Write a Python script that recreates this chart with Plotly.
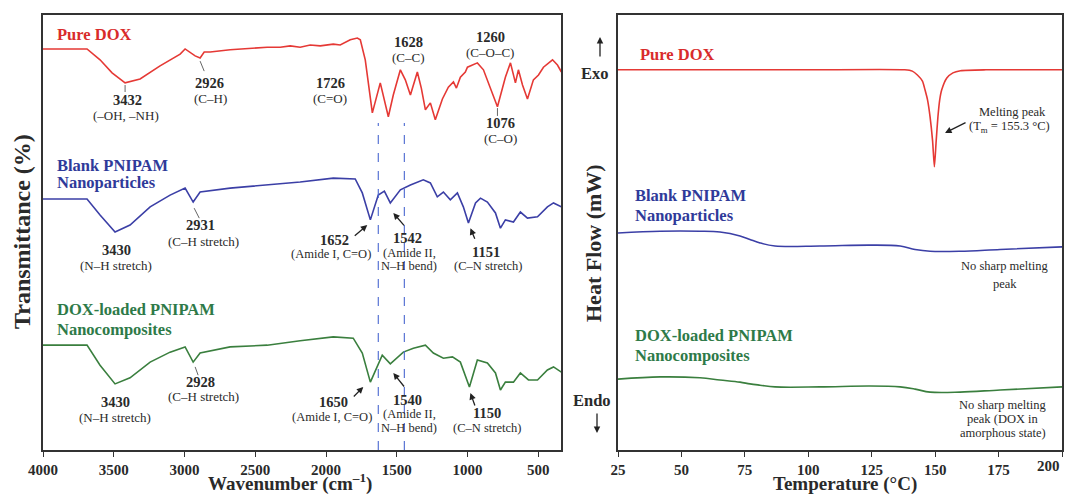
import plotly.graph_objects as go

# ---------------- FTIR data (wavenumber cm-1, transmittance a.u.) ----------------
wn_dox = [4000, 3880, 3689, 3597, 3512, 3420, 3314, 3173, 3031, 2996, 2960, 2925, 2890, 2861, 2819, 2678,
          2416, 2324, 2253, 2183, 2112, 2041, 1949, 1900, 1829, 1779, 1758, 1723, 1673, 1617, 1560, 1525,
          1475, 1440, 1404, 1355, 1327, 1298, 1263, 1228, 1178, 1136, 1100, 1079, 1051, 1016, 1001, 966,
          931, 888, 839, 789, 733, 697, 662, 641, 612, 577, 535, 499, 464, 400, 365, 337]
t_dox = [92.2, 92.2, 92.2, 89.7, 86.7, 84.4, 85.3, 88.3, 91.0, 92.2, 91.3, 90.6, 90.1, 91.5, 91.5, 92.0,
         92.6, 92.6, 92.9, 92.6, 93.1, 92.9, 93.3, 93.1, 94.3, 94.7, 94.3, 89.7, 77.5, 84.4, 76.6, 81.6,
         87.4, 85.1, 81.6, 86.9, 83.2, 78.2, 79.8, 75.9, 80.7, 83.4, 84.6, 83.2, 85.7, 86.9, 88.0, 88.5,
         89.0, 87.4, 83.4, 78.9, 85.7, 89.0, 84.4, 87.4, 83.9, 80.7, 85.1, 86.2, 88.0, 89.7, 88.5, 86.9]

wn_blank = [4000, 3880, 3689, 3597, 3491, 3385, 3243, 3102, 2996, 2939, 2890, 2678, 2416, 2183, 1949,
            1794, 1744, 1687, 1631, 1588, 1546, 1475, 1404, 1313, 1263, 1214, 1171, 1122, 1072, 1030,
            994, 944, 909, 860, 803, 768, 733, 676, 627, 577, 506, 436, 393, 337]
t_blank = [57.7, 57.7, 57.7, 54.0, 50.1, 51.7, 55.9, 58.6, 60.2, 57.0, 59.3, 60.2, 60.9, 61.6, 62.5,
           62.3, 59.1, 52.9, 58.6, 59.5, 56.8, 59.8, 60.9, 62.1, 61.4, 58.2, 59.3, 57.5, 59.1, 55.9,
           52.2, 56.8, 57.9, 57.0, 54.5, 51.0, 52.9, 52.4, 54.7, 53.3, 53.6, 55.9, 56.8, 55.9]

wn_loaded = [4000, 3880, 3689, 3597, 3491, 3385, 3243, 3102, 2996, 2939, 2890, 2678, 2416, 2183, 1949,
             1808, 1744, 1687, 1603, 1546, 1454, 1383, 1298, 1242, 1171, 1107, 1051, 987, 931, 860,
             803, 768, 733, 676, 627, 570, 506, 436, 393, 337]
t_loaded = [24.1, 24.1, 24.1, 19.5, 15.2, 16.6, 20.2, 22.5, 23.7, 20.2, 22.3, 23.7, 24.1, 25.1, 26.0,
            25.7, 22.3, 15.6, 21.8, 19.8, 22.5, 23.4, 24.1, 22.3, 21.1, 21.4, 20.2, 14.5, 20.7, 20.0,
            17.7, 13.8, 15.6, 15.6, 17.7, 16.1, 16.1, 18.4, 19.1, 17.9]

ftir_ticks = [4000, 3500, 3000, 2500, 2000, 1500, 1000, 500]
dashed_wn = [1631, 1447]

# ---------------- DSC data (temperature °C, heat flow a.u.) ----------------
temp_dox = [25, 100, 138, 141, 143, 145, 146, 147, 148, 149, 149.7, 150.4, 151.1, 151.8, 152.6, 154.6,
            157, 160, 170, 200]
hf_dox = [87.4, 87.4, 87.4, 87.1, 86.2, 84.8, 82.8, 80.5, 76.6, 71.0, 65.1, 71.0, 76.6, 80.5, 82.8, 85.5,
          86.7, 87.2, 87.4, 87.4]
temp_pol = [25, 41.6, 57.3, 65.2, 73.1, 77, 81, 86.9, 104.6, 124.3, 136.2, 142.1, 148, 159.8, 175.6, 200]
hf_blank = [49.9, 50.3, 50.3, 50.1, 49.2, 48.4, 47.6, 46.9, 46.9, 47.1, 46.9, 46.1, 45.7, 45.7, 46.1, 46.7]
hf_loaded = [16.3, 16.8, 16.6, 16.1, 15.6, 15.2, 14.9, 14.5, 14.5, 14.7, 14.5, 14.0, 13.3, 13.3, 13.8, 14.5]
dsc_ticks = [25, 50, 75, 100, 125, 150, 175, 200]

RED, BLUE, GREEN = "#e53935", "#3b3fa6", "#3a7f3e"
RED_T, BLUE_T, GREEN_T = "#d92b2b", "#2f3a9a", "#2e7a48"
FONT = "Liberation Serif"
TXT = "#2a2a2a"

fig = go.Figure()
fig.add_trace(go.Scatter(x=wn_dox, y=t_dox, mode="lines", line=dict(color=RED, width=1.6), xaxis="x", yaxis="y"))
fig.add_trace(go.Scatter(x=wn_blank, y=t_blank, mode="lines", line=dict(color=BLUE, width=1.6), xaxis="x", yaxis="y"))
fig.add_trace(go.Scatter(x=wn_loaded, y=t_loaded, mode="lines", line=dict(color=GREEN, width=1.6), xaxis="x", yaxis="y"))
fig.add_trace(go.Scatter(x=temp_dox, y=hf_dox, mode="lines", line=dict(color=RED, width=1.6, shape="spline", smoothing=0.6), xaxis="x2", yaxis="y2"))
fig.add_trace(go.Scatter(x=temp_pol, y=hf_blank, mode="lines", line=dict(color=BLUE, width=1.6, shape="spline"), xaxis="x2", yaxis="y2"))
fig.add_trace(go.Scatter(x=temp_pol, y=hf_loaded, mode="lines", line=dict(color=GREEN, width=1.6, shape="spline"), xaxis="x2", yaxis="y2"))

W, H = 1071, 495
def px(x):
    return x / W
def py(y):
    return 1 - y / H

TICKFONT = dict(family=FONT, size=15, color=TXT, weight="bold")
axis_common = dict(showline=True, mirror=True, linecolor="#333", linewidth=1.5, showgrid=False,
                   zeroline=False, automargin=False)
fig.update_layout(
    width=W, height=H, margin=dict(l=0, r=0, t=0, b=0, autoexpand=False),
    paper_bgcolor="white", plot_bgcolor="white", showlegend=False,
    xaxis=dict(domain=[px(43), px(561)], range=[4000, 340], tickvals=ftir_ticks, ticks="outside", ticklen=5,
               tickcolor="#333", tickfont=TICKFONT, **axis_common),
    yaxis=dict(domain=[py(450), py(15)], range=[0, 100], showticklabels=False, ticks="", **axis_common),
    xaxis2=dict(domain=[px(618), px(1062)], range=[25, 200], tickvals=dsc_ticks,
                ticktext=[str(t) for t in dsc_ticks[:-1]] + [""], ticks="outside", ticklen=5,
                tickcolor="#333", tickfont=TICKFONT, anchor="y2", **axis_common),
    yaxis2=dict(domain=[py(450), py(15)], range=[0, 100], showticklabels=False, ticks="", anchor="x2", **axis_common),
)

ann = []
def text(x, y, t, size=13, bold=False, color=TXT, xa="center", xref="x", yref="y"):
    ann.append(dict(x=x, y=y, xref=xref, yref=yref, text=("<b>%s</b>" % t) if bold else t, showarrow=False,
                    xanchor=xa, yanchor="middle", font=dict(family=FONT, size=size, color=color)))

def arrow(x, y, ax, ay, xref="x", yref="y"):
    ann.append(dict(x=x, y=y, xref=xref, yref=yref, ax=ax, ay=ay, text="", showarrow=True, arrowhead=2,
                    arrowsize=1, arrowwidth=1.3, arrowcolor="#222", standoff=0))

D = 13  # description font size
# FTIR labels
text(3915, 95.6, "Pure DOX", 16.5, True, RED_T, "left")
text(3406, 80.5, "3432", 14.5, True); text(3413, 77.0, "(–OH, –NH)", D)
text(2826, 84.4, "2926", 14.5, True); text(2819, 80.7, "(C–H)", D)
text(1970, 84.4, "1726", 14.5, True); text(1970, 80.7, "(C=O)", D)
text(1419, 93.8, "1628", 14.5, True); text(1419, 90.3, "(C–C)", D)
text(839, 94.9, "1260", 14.5, True); text(839, 91.3, "(C–O–C)", D)
text(768, 75.2, "1076", 14.5, True); text(768, 71.7, "(C–O)", D)

text(3915, 65.5, "Blank PNIPAM", 16.5, True, BLUE_T, "left")
text(3915, 61.4, "Nanoparticles", 16.5, True, BLUE_T, "left")
text(3484, 46.0, "3430", 14.5, True); text(3484, 42.5, "(N–H stretch)", D)
text(2890, 51.7, "2931", 14.5, True); text(2868, 48.0, "(C–H stretch)", D)
text(1942, 48.3, "1652", 14.5, True); text(1963, 45.1, "(Amide I, C=O)", 12.5)
text(1426, 48.7, "1542", 14.5, True); text(1412, 45.3, "(Amide II,", 12.5); text(1412, 42.3, "N–H bend)", 12.5)
text(867, 45.5, "1151", 14.5, True); text(853, 42.3, "(C–N stretch)", 12.5)
arrow(1709, 51.7, -14, 12); arrow(1525, 54.5, 12, 14); arrow(980, 51.0, 5, 12)

text(3915, 32.2, "DOX-loaded PNIPAM", 16.5, True, GREEN_T, "left")
text(3915, 27.6, "Nanocomposites", 16.5, True, GREEN_T, "left")
text(3491, 11.0, "3430", 14.5, True); text(3491, 7.4, "(N–H stretch)", D)
text(2890, 15.6, "2928", 14.5, True); text(2868, 12.2, "(C–H stretch)", D)
text(1949, 11.0, "1650", 14.5, True); text(1956, 7.6, "(Amide I, C=O)", 12.5)
text(1426, 11.5, "1540", 14.5, True); text(1412, 8.3, "(Amide II,", 12.5); text(1412, 5.1, "N–H bend)", 12.5)
text(860, 8.5, "1150", 14.5, True); text(860, 5.1, "(C–N stretch)", 12.5)
arrow(1737, 14.5, -11, 11); arrow(1525, 17.7, 12, 15); arrow(980, 13.1, 5, 14)

# DSC labels
text(32.9, 91.0, "Pure DOX", 16.5, True, RED_T, "left", "x2", "y2")
text(180.3, 77.7, "Melting peak", 12.5, False, TXT, "center", "x2", "y2")
text(179.5, 74.3, "(T<sub>m</sub> = 155.3 °C)", 12.5, False, TXT, "center", "x2", "y2")
arrow(153.9, 72.9, 22, -11, "x2", "y2")
text(30.9, 58.6, "Blank PNIPAM", 16.5, True, BLUE_T, "left", "x2", "y2")
text(30.9, 54.0, "Nanoparticles", 16.5, True, BLUE_T, "left", "x2", "y2")
text(177.5, 42.3, "No sharp melting", 12.5, False, TXT, "center", "x2", "y2")
text(177.5, 38.2, "peak", 12.5, False, TXT, "center", "x2", "y2")
text(30.9, 26.4, "DOX-loaded PNIPAM", 16.5, True, GREEN_T, "left", "x2", "y2")
text(30.9, 21.8, "Nanocomposites", 16.5, True, GREEN_T, "left", "x2", "y2")
text(176.8, 10.3, "No sharp melting", 12.5, False, TXT, "center", "x2", "y2")
text(176.8, 7.1, "peak (DOX in", 12.5, False, TXT, "center", "x2", "y2")
text(176.8, 3.9, "amorphous state)", 12.5, False, TXT, "center", "x2", "y2")
# last DSC tick label (sits at the very edge of the figure)
text(200, py(466), "200", 15, True, TXT, "right", "x2", "paper")

# Exo / Endo
text(px(595), py(74), "Exo", 16.5, True, TXT, "center", "paper", "paper")
arrow(px(600), py(37), 0, 21, "paper", "paper")
text(px(592), py(400), "Endo", 16.5, True, TXT, "center", "paper", "paper")
arrow(px(597), py(433), 0, -21, "paper", "paper")

# Axis titles
text(px(290), py(482), "Wavenumber (cm<sup>–1</sup>)", 19, True, TXT, "center", "paper", "paper")
text(px(845), py(484), "Temperature (°C)", 19, True, TXT, "center", "paper", "paper")
for xx, yy, t, s in [(22, 232, "Transmittance (%)", 24), (593, 243, "Heat Flow (mW)", 22)]:
    ann.append(dict(x=px(xx), y=py(yy), xref="paper", yref="paper", text="<b>%s</b>" % t, showarrow=False,
                    textangle=-90, xanchor="center", yanchor="middle",
                    font=dict(family=FONT, size=s, color=TXT)))

fig.update_layout(annotations=ann)

shapes = []
for w in dashed_wn:
    shapes.append(dict(type="line", xref="x", yref="y", x0=w, x1=w, y0=0, y1=75.2,
                       line=dict(color="#4a68d0", width=1.1, dash="dash")))
for (x0, y0, x1, y1) in [(3420, 82.3, 3420, 83.9), (2890, 89.4, 2861, 87.1), (789, 78.6, 789, 76.8),
                         (2932, 55.6, 2896, 53.3), (2925, 19.1, 2904, 17.2)]:
    shapes.append(dict(type="line", xref="x", yref="y", x0=x0, y0=y0, x1=x1, y1=y1,
                       line=dict(color="#666", width=1)))
fig.update_layout(shapes=shapes)

fig.write_html("out.html", config={"displayModeBar": False},
               post_script="document.body.style.margin='0px';document.body.style.overflow='hidden';")
